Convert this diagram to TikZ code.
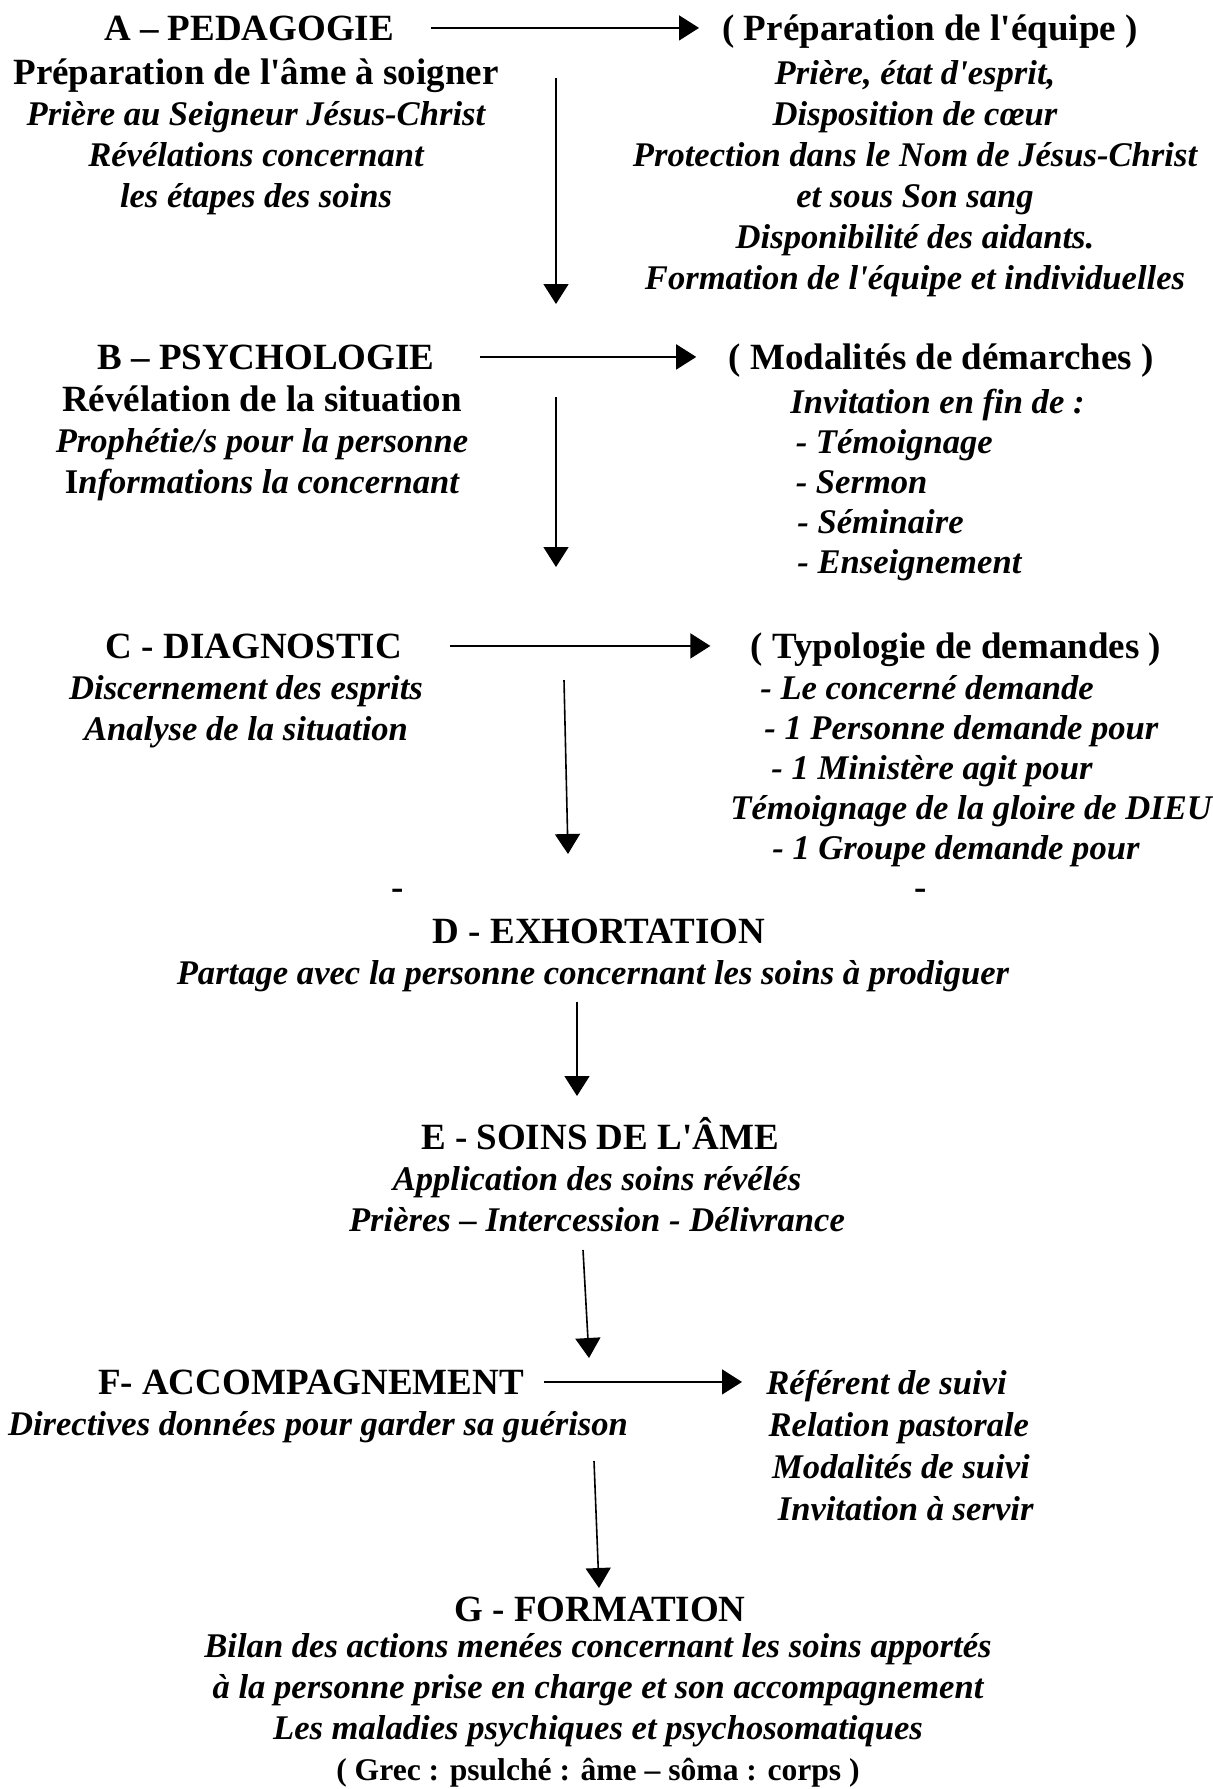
\documentclass[tikz,border=0pt]{standalone}
\usepackage{fontspec}
\setmainfont{Liberation Serif}[Ligatures=TeXOff]
\usepackage{tikz}
\usetikzlibrary{arrows.meta}
\tikzstyle{titre} = [font=\fontsize{18.5}{20.5}\selectfont\bfseries, anchor=base, inner sep=0pt]
\tikzstyle{texte} = [font=\fontsize{17.3}{20.5}\selectfont\bfseries\itshape, anchor=base, inner sep=0pt, align=center]
\tikzstyle{liste} = [texte, font=\fontsize{17.3}{20}\selectfont\bfseries\itshape, align=left, anchor=base west]
\tikzstyle{fleche} = [-{Triangle[width=12.5pt,length=10pt]}, line width=0.8pt]
\newcommand{\droit}[1]{\textup{\fontsize{18.5}{20.5}\selectfont #1}}
\newcommand{\grec}[1]{\textup{\fontsize{15.8}{20.5}\selectfont #1}}

\begin{document}
\begin{tikzpicture}[x=0.5pt, y=-0.5pt]
		\useasboundingbox (0,0) rectangle (1213,1789);
		% A (les blocs sont places sur la ligne de base de leur derniere ligne)
		\node (titreA)[titre] at (249,40) {A – PEDAGOGIE};
		\node (texteA)[texte] at (256,207) {\droit{Préparation de l'âme à soigner}\\Prière au Seigneur Jésus-Christ\\Révélations concernant\\les étapes des soins};
		\node (equipe)[titre] at (930,40) {( Préparation de l'équipe )};
		\node (texteEquipe)[texte] at (915,289) {Prière, état d'esprit,\\Disposition de cœur\\Protection dans le Nom de Jésus-Christ\\et sous Son sang\\Disponibilité des aidants.\\Formation de l'équipe et individuelles};
		% B
		\node (titreB)[titre] at (266,369) {B – PSYCHOLOGIE};
		\node (texteB)[texte] at (262,493) {\droit{Révélation de la situation}\\Prophétie/s pour la personne\\\textup{I}nformations la concernant};
		\node (demarches)[titre] at (941,369) {( Modalités de démarches )};
		\node (texteDemarches)[liste] at (790,573) {Invitation en fin de :\\\hspace*{2.7pt}- Témoignage\\\hspace*{2.7pt}- Sermon\\\hspace*{3.5pt}- Séminaire\\\hspace*{3.5pt}- Enseignement};
		% C
		\node (titreC)[titre] at (254,658) {C - DIAGNOSTIC};
		\node (texteC)[texte] at (246,740) {Discernement des esprits\\Analyse de la situation};
		\node (demandes)[titre] at (956,658) {( Typologie de demandes )};
		\node (texteDemandes)[liste] at (760,859) {- Le concerné demande\\\hspace*{2pt}- 1 Personne demande pour\\\hspace*{5.5pt}- 1 Ministère agit pour\\\hspace*{-15pt}Témoignage de la gloire de DIEU\\\hspace*{6pt}- 1 Groupe demande pour};
		\node (tiretG)[titre] at (398,899) {-};
		\node (tiretD)[titre] at (921,899) {-};
		% D
		\node (titreD)[titre] at (599,943) {D - EXHORTATION};
		\node (texteD)[texte] at (593,984) {Partage avec la personne concernant les soins à prodiguer};
		% E
		\node (titreE)[titre] at (600,1149) {E - SOINS DE L'ÂME};
		\node (texteE)[texte] at (597,1231) {Application des soins révélés\\Prières – Intercession - Délivrance};
		% F
		\node (titreF)[titre] at (311,1394) {F- ACCOMPAGNEMENT};
		\node (texteF)[texte] at (318,1435) {Directives données pour garder sa guérison};
		\node (suivi)[liste, font=\fontsize{17.3}{21}\selectfont\bfseries\itshape] at (766,1520) {Référent de suivi\\\hspace*{1.1pt}Relation pastorale\\\hspace*{2.9pt}Modalités de suivi\\\hspace*{5.7pt}Invitation à servir};
		% G
		\node (titreG)[titre] at (600,1621) {G - FORMATION};
		\node (texteG)[texte] at (598,1780) {Bilan des actions menées concernant les soins apportés\\à la personne prise en charge et son accompagnement\\Les maladies psychiques et psychosomatiques\\\grec{( Grec : psulché : âme – sôma : corps )}};

		% fleches vers la droite
		\draw [fleche, shorten <=18.5pt, shorten >=11.5pt] (titreA.east) -- (titreA.east -| equipe.west);
		\draw [fleche, shorten <=22.5pt, shorten >=16pt] (titreB.east) -- (titreB.east -| demarches.west);
		\draw [fleche, shorten <=24pt, shorten >=20pt] (titreC.east) -- (titreC.east -| demandes.west);
		\draw [fleche, shorten <=10pt, shorten >=12pt] (titreF.east) -- (titreF.east -| suivi.west);

		% fleches vers le bas
		\coordinate (a1) at (556,78);
		\coordinate (a2) at (556,304);
		\coordinate (b1) at (556,397);
		\coordinate (b2) at (556,567);
		\coordinate (c1) at (564,680);
		\coordinate (c2) at (568,854);
		\coordinate (d1) at (577,1002);
		\coordinate (d2) at (577,1096);
		\coordinate (e1) at (583,1250);
		\coordinate (e2) at (589,1358);
		\coordinate (f1) at (594,1461);
		\coordinate (f2) at (599,1588);
		\draw [fleche] (a1) -- (a2);
		\draw [fleche] (b1) -- (b2);
		\draw [fleche] (c1) -- (c2);
		\draw [fleche] (d1) -- (d2);
		\draw [fleche] (e1) -- (e2);
		\draw [fleche] (f1) -- (f2);
	\end{tikzpicture}
\end{document}
